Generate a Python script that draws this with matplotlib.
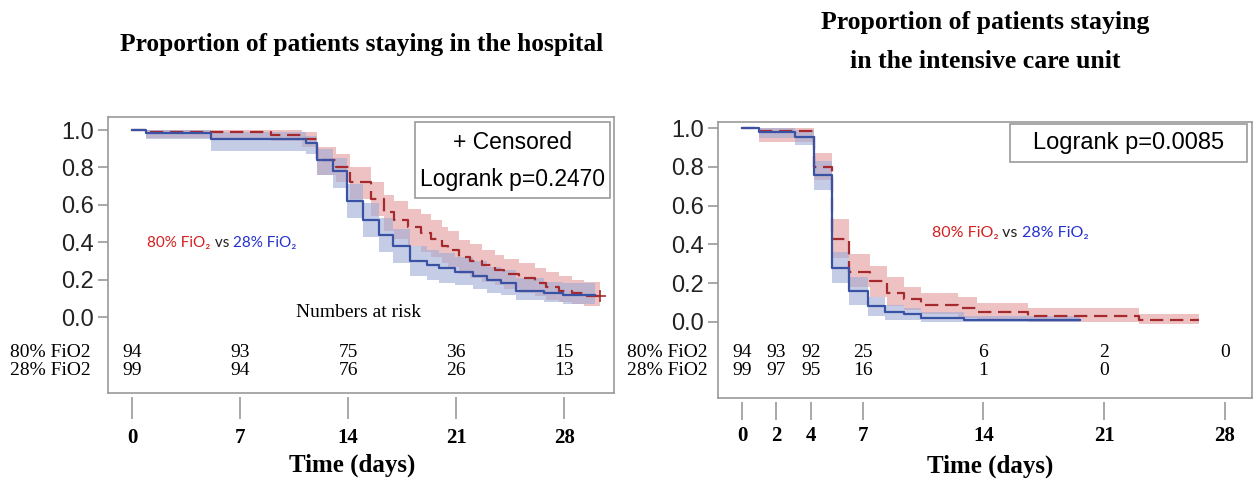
import matplotlib
matplotlib.use("Agg")
import matplotlib.pyplot as plt
from matplotlib.patches import Rectangle

# hospital stay, 80% FiO2
hosp_t_80 = [0, 0.9, 9.0, 11.0, 12.0, 13.2, 14.1, 15.5, 16.3, 17.0, 17.9, 18.7, 19.4,
             20.1, 20.5, 21.2, 21.9, 22.7, 23.5, 24.1, 25.1, 26.1, 26.8, 27.7, 28.5, 29.3, 30.3]
hosp_s_80 = [1.0, 0.99, 0.975, 0.95, 0.84, 0.80, 0.72, 0.63, 0.56, 0.52, 0.48, 0.45, 0.42,
             0.38, 0.36, 0.32, 0.30, 0.28, 0.25, 0.23, 0.21, 0.18, 0.16, 0.14, 0.13, 0.11]
hosp_lo_80 = [1.0, 0.96, 0.94, 0.91, 0.76, 0.72, 0.63, 0.54, 0.46, 0.42, 0.38, 0.35, 0.32,
              0.29, 0.27, 0.23, 0.21, 0.19, 0.17, 0.15, 0.13, 0.11, 0.09, 0.08, 0.07, 0.06]
hosp_hi_80 = [1.0, 1.0, 1.0, 0.99, 0.91, 0.87, 0.80, 0.72, 0.65, 0.62, 0.58, 0.55, 0.52,
              0.48, 0.46, 0.41, 0.39, 0.36, 0.33, 0.31, 0.29, 0.26, 0.24, 0.22, 0.20, 0.19]

# hospital stay, 28% FiO2
hosp_t_28 = [0, 0.9, 5.1, 11.3, 12.0, 13.0, 13.9, 15.0, 16.0, 16.9, 18.0, 19.1, 19.9,
             20.9, 22.1, 23.0, 23.9, 24.9, 26.7, 27.9, 30.0]
hosp_s_28 = [1.0, 0.985, 0.95, 0.93, 0.84, 0.78, 0.62, 0.52, 0.44, 0.38, 0.30, 0.28, 0.26,
             0.24, 0.22, 0.20, 0.18, 0.14, 0.13, 0.12]
hosp_lo_28 = [1.0, 0.95, 0.89, 0.87, 0.76, 0.69, 0.53, 0.43, 0.35, 0.29, 0.22, 0.20, 0.18,
              0.17, 0.15, 0.13, 0.12, 0.09, 0.08, 0.07]
hosp_hi_28 = [1.0, 1.0, 0.99, 0.97, 0.90, 0.85, 0.71, 0.61, 0.53, 0.47, 0.38, 0.36, 0.34,
              0.32, 0.30, 0.27, 0.25, 0.21, 0.19, 0.18]

# ICU stay, 80% FiO2
icu_t_80 = [0, 1.0, 4.2, 5.2, 6.2, 7.4, 8.4, 9.4, 10.4, 12.5, 13.6, 16.6, 23.0, 26.5]
icu_s_80 = [1.0, 0.985, 0.80, 0.43, 0.26, 0.21, 0.15, 0.12, 0.09, 0.07, 0.05, 0.03, 0.01]
icu_lo_80 = [1.0, 0.93, 0.73, 0.33, 0.18, 0.13, 0.08, 0.06, 0.04, 0.02, 0.01, 0.0, -0.01]
icu_hi_80 = [1.0, 1.0, 0.87, 0.53, 0.35, 0.29, 0.23, 0.18, 0.15, 0.13, 0.10, 0.07, 0.04]

# ICU stay, 28% FiO2
icu_t_28 = [0, 1.0, 3.05, 4.2, 5.2, 6.2, 7.3, 8.3, 9.4, 10.4, 12.9, 19.6]
icu_s_28 = [1.0, 0.98, 0.955, 0.76, 0.28, 0.16, 0.08, 0.05, 0.04, 0.02, 0.01]
icu_lo_28 = [1.0, 0.95, 0.91, 0.68, 0.20, 0.09, 0.03, 0.01, 0.01, 0.0, 0.0]
icu_hi_28 = [1.0, 1.0, 0.99, 0.83, 0.36, 0.23, 0.13, 0.09, 0.07, 0.05, 0.03]

# numbers at risk
hosp_risk_days = [0, 7, 14, 21, 28]
hosp_risk_80 = [94, 93, 75, 36, 15]
hosp_risk_28 = [99, 94, 76, 26, 13]
icu_risk_days_80 = [0, 2, 4, 7, 14, 21, 28]
icu_risk_80 = [94, 93, 92, 25, 6, 2, 0]
icu_risk_days_28 = [0, 2, 4, 7, 14, 21]
icu_risk_28 = [99, 97, 95, 16, 1, 0]

hosp_ticks = [0, 7, 14, 21, 28]
icu_ticks = [0, 2, 4, 7, 14, 21, 28]
y_ticks = [0.0, 0.2, 0.4, 0.6, 0.8, 1.0]

RED = "#a52a2e"
BLUE = "#3a52a3"
RED_BAND = "#e49a9c"
BLUE_BAND = "#9eabd6"
GRAY = "#9a9a9a"
SANS = "Liberation Sans"
SERIF = "Liberation Serif"


def km(ax, t, s, lo, hi, color, band, dashed, censor=False):
    s2 = s + [s[-1]]
    ax.fill_between(t, lo + [lo[-1]], hi + [hi[-1]], step="post", color=band,
                    alpha=0.6, lw=0)
    ls = (0, (6, 3)) if dashed else "-"
    ax.step(t, s2, where="post", color=color, lw=1.6, ls=ls)
    if censor:
        ax.plot([t[-1]], [s[-1]], marker="+", color=color, ms=8, mew=1.2)


def panel(fig, rect, xlim, ylim, ticks, row_y, label_x, tick_len, tick_pad):
    ax = fig.add_axes(rect)
    ax.set_xlim(*xlim)
    ax.set_ylim(*ylim)
    for sp in ax.spines.values():
        sp.set_color(GRAY)
        sp.set_linewidth(1.2)
    ax.set_yticks(y_ticks)
    ax.set_yticklabels(["%.1f" % v for v in y_ticks], fontfamily=SANS, fontsize=17,
                       color="#222222")
    ax.tick_params(axis="y", length=7, color=GRAY, width=1.2, pad=3)
    ax.set_xticks([])
    sec = ax.secondary_xaxis(-0.016)
    sec.spines["bottom"].set_visible(False)
    sec.set_xticks(ticks)
    sec.set_xticklabels([str(v) for v in ticks], fontfamily=SERIF, fontsize=15,
                        fontweight="bold")
    sec.tick_params(axis="x", length=tick_len, color=GRAY, width=1.2, pad=tick_pad)
    for y, lab in zip(row_y, ["80% FiO2", "28% FiO2"]):
        ax.text(label_x, y, lab, transform=ax.get_yaxis_transform(), ha="right",
                va="center", fontfamily=SERIF, fontsize=14)
    return ax


def fio_label(ax, x, y, size=11):
    fam = ["Lato", "DejaVu Sans"]
    t1 = ax.text(x, y, "80% FiO\u2082", color="#d42020", fontsize=size, family=fam,
                 va="center")
    t2 = ax.annotate(" vs ", xy=(1, 0), xycoords=t1, va="bottom", fontsize=size,
                     family=fam, color="#222222")
    ax.annotate("28% FiO\u2082", xy=(1, 0), xycoords=t2, va="bottom", fontsize=size,
                family=fam, color="#2530d0")


def risk_rows(ax, days_a, vals_a, days_b, vals_b, rows):
    for d, n in zip(days_a, vals_a):
        ax.text(d, rows[0], str(n), ha="center", va="center", fontfamily=SERIF, fontsize=14)
    for d, n in zip(days_b, vals_b):
        ax.text(d, rows[1], str(n), ha="center", va="center", fontfamily=SERIF, fontsize=14)


fig = plt.figure(figsize=(12.55, 4.79), dpi=100)

# left panel: hospital
row_h = [-0.19, -0.287]
ax1 = panel(fig, [0.0861, 0.1795, 0.4032, 0.5762], (-1.555, 31.24), (-0.406, 1.0695),
            hosp_ticks, row_h, -0.034, 16, 6)
km(ax1, hosp_t_80, hosp_s_80, hosp_lo_80, hosp_hi_80, RED, RED_BAND, True, True)
km(ax1, hosp_t_28, hosp_s_28, hosp_lo_28, hosp_hi_28, BLUE, BLUE_BAND, False)
risk_rows(ax1, hosp_risk_days, hosp_risk_80, hosp_risk_days, hosp_risk_28, row_h)
ax1.text(14.65, 0.027, "Numbers at risk", ha="center", va="center", fontfamily=SERIF,
         fontsize=14)
ax1.add_patch(Rectangle((0.607, 0.7065), 0.385, 0.2755, transform=ax1.transAxes,
                        fill=False, ec=GRAY, lw=1.2))
ax1.text(0.80, 0.906, "+ Censored", transform=ax1.transAxes, ha="center", va="center",
         fontfamily=SANS, fontsize=16.5)
ax1.text(0.80, 0.772, "Logrank p=0.2470", transform=ax1.transAxes, ha="center",
         va="center", fontfamily=SANS, fontsize=16.5)
fio_label(ax1, 1.0, 0.396)

# right panel: ICU
row_i = [-0.158, -0.25]
ax2 = panel(fig, [0.5721, 0.1691, 0.4255, 0.5762], (-1.391, 29.57), (-0.392, 1.031),
            icu_ticks, row_i, -0.019, 13, 4)
km(ax2, icu_t_80, icu_s_80, icu_lo_80, icu_hi_80, RED, RED_BAND, True)
km(ax2, icu_t_28, icu_s_28, icu_lo_28, icu_hi_28, BLUE, BLUE_BAND, False)
risk_rows(ax2, icu_risk_days_80, icu_risk_80, icu_risk_days_28, icu_risk_28, row_i)
ax2.add_patch(Rectangle((0.547, 0.855), 0.444, 0.138, transform=ax2.transAxes,
                        fill=False, ec=GRAY, lw=1.2))
ax2.text(0.769, 0.924, "Logrank p=0.0085", transform=ax2.transAxes, ha="center",
         va="center", fontfamily=SANS, fontsize=17)
fio_label(ax2, 11.0, 0.459, 11.5)

# axis titles and panel titles
fig.text(352 / 1255, 1 - 465 / 479, "Time (days)", ha="center", va="center",
         fontfamily=SERIF, fontsize=18, fontweight="bold")
fig.text(990 / 1255, 1 - 466 / 479, "Time (days)", ha="center", va="center",
         fontfamily=SERIF, fontsize=18, fontweight="bold")
fig.text(362 / 1255, 1 - 45 / 479, "Proportion of patients staying in the hospital",
         ha="center", va="center", fontfamily=SERIF, fontsize=18.3, fontweight="bold")
fig.text(985 / 1255, 1 - 22 / 479, "Proportion of patients staying",
         ha="center", va="center", fontfamily=SERIF, fontsize=18.5, fontweight="bold")
fig.text(985 / 1255, 1 - 62 / 479, "in the intensive care unit",
         ha="center", va="center", fontfamily=SERIF, fontsize=18.5, fontweight="bold")

fig.savefig("out.png", dpi=100)
